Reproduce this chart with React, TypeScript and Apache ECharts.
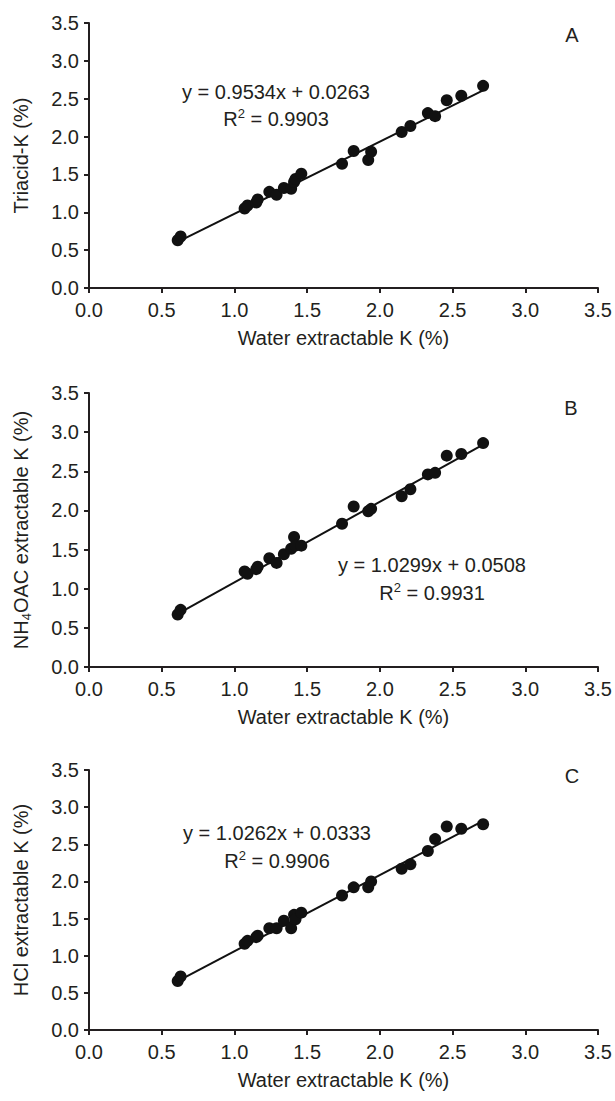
import React, { useEffect, useRef } from "react";
import * as echarts from "echarts";

// Water extractable K (%) — shared x values
const waterK = [0.61, 0.63, 1.07, 1.09, 1.15, 1.16, 1.24, 1.29, 1.34, 1.39, 1.41, 1.42, 1.46, 1.74, 1.82, 1.92, 1.94, 2.15, 2.21, 2.33, 2.38, 2.46, 2.56, 2.71];
// Panel A: Triacid-K (%)
const triacidK = [0.63, 0.68, 1.05, 1.09, 1.13, 1.17, 1.27, 1.23, 1.32, 1.31, 1.40, 1.44, 1.51, 1.64, 1.81, 1.69, 1.80, 2.06, 2.14, 2.31, 2.27, 2.48, 2.54, 2.67];
// Panel B: NH4OAC extractable K (%)
const nh4oacK = [0.67, 0.73, 1.22, 1.19, 1.25, 1.28, 1.39, 1.33, 1.44, 1.51, 1.66, 1.55, 1.55, 1.83, 2.05, 1.99, 2.02, 2.18, 2.27, 2.46, 2.48, 2.70, 2.72, 2.86];
// Panel C: HCl extractable K (%)
const hclK = [0.66, 0.72, 1.16, 1.20, 1.25, 1.27, 1.37, 1.37, 1.47, 1.37, 1.55, 1.49, 1.58, 1.81, 1.92, 1.92, 2.00, 2.17, 2.23, 2.41, 2.57, 2.74, 2.71, 2.77];

const panelLetters = ["A", "B", "C"];
const yNames = ["Triacid-K (%)", "NH{sub|4}OAC extractable K (%)", "HCl extractable K (%)"];
const xName = "Water extractable K (%)";
const slopes = [0.9534, 1.0299, 1.0262];
const intercepts = [0.0263, 0.0508, 0.0333];
const r2Values = ["0.9903", "0.9931", "0.9906"];

const FONT = "Liberation Sans, Arial, sans-serif";
const INK = "#231f20";
const DOT = "#111111";
const FS = 20;

export default function App() {
  const ref = useRef<HTMLDivElement>(null);
  useEffect(() => {
    if (!ref.current) return;
    const chart = echarts.init(ref.current, null, { renderer: "svg" });
    const grids = [
      { left: 89, width: 509, top: 23, height: 265 },
      { left: 89, width: 509, top: 393, height: 274 },
      { left: 89, width: 509, top: 770, height: 260 },
    ];
    const ys = [triacidK, nh4oacK, hclK];
    const xMin = Math.min(...waterK);
    const xMax = Math.max(...waterK);

    const xAxes = grids.map((_, i) => ({
      type: "value",
      gridIndex: i,
      min: 0,
      max: 3.5,
      interval: 0.5,
      name: xName,
      nameLocation: "middle",
      nameGap: 40,
      nameTextStyle: { fontFamily: FONT, fontSize: FS, color: INK },
      axisLine: { show: true, lineStyle: { color: INK, width: 2 } },
      axisTick: { show: true, length: 5, lineStyle: { color: INK, width: 2 } },
      axisLabel: { fontFamily: FONT, fontSize: FS, color: INK, margin: 12, formatter: (v: number) => v.toFixed(1) },
      splitLine: { show: false },
    }));
    const yAxes = grids.map((_, i) => ({
      type: "value",
      gridIndex: i,
      min: 0,
      max: 3.5,
      interval: 0.5,
      name: yNames[i],
      nameLocation: "middle",
      nameGap: 56,
      nameTextStyle: {
        fontFamily: FONT,
        fontSize: FS,
        color: INK,
        lineHeight: 24,
        rich: { sub: { fontFamily: FONT, fontSize: 13, color: INK, lineHeight: 13, verticalAlign: "bottom" } },
      },
      axisLine: { show: true, lineStyle: { color: INK, width: 2 } },
      axisTick: { show: true, length: 5, lineStyle: { color: INK, width: 2 } },
      axisLabel: { fontFamily: FONT, fontSize: FS, color: INK, margin: 10, formatter: (v: number) => v.toFixed(1) },
      splitLine: { show: false },
    }));

    const series: any[] = [];
    ys.forEach((yv, i) => {
      series.push({
        type: "line",
        xAxisIndex: i,
        yAxisIndex: i,
        showSymbol: false,
        silent: true,
        lineStyle: { color: DOT, width: 2 },
        data: [
          [xMin, slopes[i] * xMin + intercepts[i]],
          [xMax, slopes[i] * xMax + intercepts[i]],
        ],
        z: 2,
      });
      series.push({
        type: "scatter",
        xAxisIndex: i,
        yAxisIndex: i,
        symbol: "circle",
        symbolSize: 12,
        itemStyle: { color: DOT, opacity: 1 },
        data: waterK.map((x, k) => [x, yv[k]]),
        z: 3,
      });
    });

    const letterPos = [
      [572, 35],
      [571, 408],
      [572, 776],
    ];
    const eqPos = [
      [276, 92, 119],
      [432, 565, 593],
      [277, 833, 861],
    ];
    const graphic: any[] = [];
    panelLetters.forEach((L, i) => {
      graphic.push({
        type: "text",
        x: letterPos[i][0],
        y: letterPos[i][1],
        style: { text: L, font: `${FS}px ${FONT}`, fill: INK, textAlign: "center", textVerticalAlign: "middle" },
      });
      graphic.push({
        type: "text",
        x: eqPos[i][0],
        y: eqPos[i][1],
        style: {
          text: `y = ${slopes[i].toFixed(4)}x + ${intercepts[i].toFixed(4)}`,
          font: `${FS}px ${FONT}`,
          fill: INK,
          textAlign: "center",
          textVerticalAlign: "middle",
        },
      });
      graphic.push({
        type: "text",
        x: eqPos[i][0],
        y: eqPos[i][2],
        style: {
          text: `R{sup|2} = ${r2Values[i]}`,
          font: `${FS}px ${FONT}`,
          fill: INK,
          lineHeight: 24,
          textAlign: "center",
          textVerticalAlign: "middle",
          rich: { sup: { font: `13px ${FONT}`, fill: INK, lineHeight: 13, verticalAlign: "top" } },
        },
      });
    });

    chart.setOption({
      animation: false,
      backgroundColor: "#ffffff",
      grid: grids,
      xAxis: xAxes,
      yAxis: yAxes,
      series,
      graphic,
    });
    return () => chart.dispose();
  }, []);
  return <div ref={ref} style={{ position: "fixed", left: 0, top: 0, width: 615, height: 1101 }} />;
}
